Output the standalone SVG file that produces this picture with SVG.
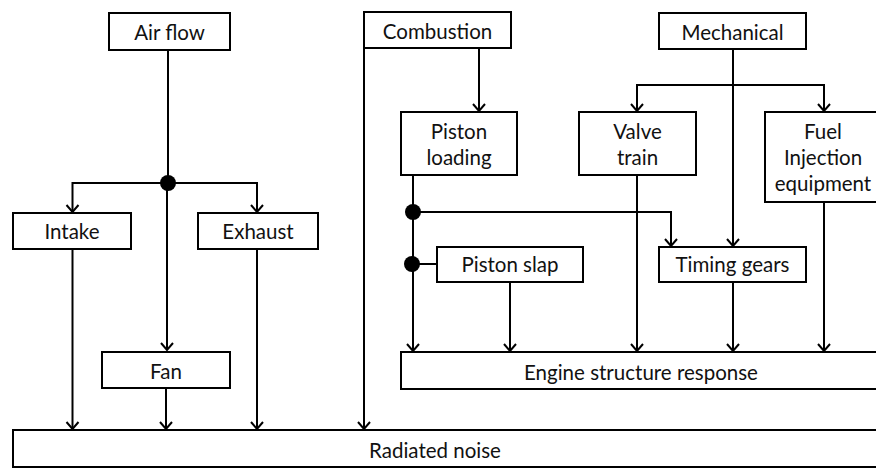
<svg xmlns="http://www.w3.org/2000/svg" width="876" height="468" viewBox="0 0 876 468">
  <style>
    .box { fill: #fff; stroke: #000; stroke-width: 2; }
    .lbl { font-family: Lato, "Open Sans", "Liberation Sans", sans-serif; font-size: 20.5px; fill: #111; text-anchor: middle; }
    .wire { fill: none; stroke: #000; stroke-width: 2; }
    .arr { marker-end: url(#head); }
    .dot { fill: #000; }
  </style>
  <defs>
    <marker id="head" markerUnits="userSpaceOnUse" markerWidth="16" markerHeight="16" viewBox="-9 -8 10 16" refX="0" refY="0" orient="auto">
      <path d="M-7,-6 L0,0 L-7,6" fill="none" stroke="#000" stroke-width="2"/>
    </marker>
  </defs>
  <rect width="876" height="468" fill="#fff"/>

  <!-- connectors -->
  <g id="connectors">
    <!-- air flow branch -->
    <path class="wire" d="M168,50 V183"/>
    <path class="wire arr" d="M168,183 H72.5 V212"/>
    <path class="wire arr" d="M168,183 H257 V212"/>
    <path class="wire arr" d="M167,183 V350"/>
    <path class="wire arr" d="M72.5,249 V429"/>
    <path class="wire arr" d="M166,388 V429"/>
    <path class="wire arr" d="M257,249 V429"/>
    <!-- combustion branch -->
    <path class="wire arr" d="M364,47 V429"/>
    <path class="wire arr" d="M479,48 V111"/>
    <path class="wire arr" d="M413,175 V351"/>
    <path class="wire arr" d="M413,212 H671 V246"/>
    <path class="wire" d="M412,264 H437"/>
    <path class="wire arr" d="M510,282 V351"/>
    <!-- mechanical branch -->
    <path class="wire arr" d="M733,49 V246"/>
    <path class="wire arr" d="M733,85 H637 V111"/>
    <path class="wire arr" d="M733,85 H824 V111"/>
    <path class="wire arr" d="M637,175 V351"/>
    <path class="wire arr" d="M733,282 V351"/>
    <path class="wire arr" d="M824,201 V351"/>
    <!-- junctions -->
    <circle class="dot" cx="168" cy="183" r="8"/>
    <circle class="dot" cx="413" cy="212" r="8"/>
    <circle class="dot" cx="412" cy="264" r="8"/>
  </g>

  <g id="air-flow">
    <rect class="box" x="109" y="13" width="121" height="37"/>
    <text class="lbl" x="169.5" y="40">Air flow</text>
  </g>
  <g id="intake">
    <rect class="box" x="13" y="213" width="118" height="36"/>
    <text class="lbl" x="72" y="239">Intake</text>
  </g>
  <g id="exhaust">
    <rect class="box" x="198" y="213" width="120" height="36"/>
    <text class="lbl" x="258" y="239">Exhaust</text>
  </g>
  <g id="fan">
    <rect class="box" x="102" y="352" width="128" height="36"/>
    <text class="lbl" x="166" y="379">Fan</text>
  </g>
  <g id="combustion">
    <rect class="box" x="364" y="12" width="147" height="36"/>
    <text class="lbl" x="437.5" y="39">Combustion</text>
  </g>
  <g id="piston-loading">
    <rect class="box" x="401" y="112" width="116" height="63"/>
    <text class="lbl" x="459" y="139">Piston</text>
    <text class="lbl" x="459" y="165">loading</text>
  </g>
  <g id="mechanical">
    <rect class="box" x="659" y="13" width="147" height="36"/>
    <text class="lbl" x="732.5" y="40">Mechanical</text>
  </g>
  <g id="valve-train">
    <rect class="box" x="579" y="112" width="117" height="63"/>
    <text class="lbl" x="637.5" y="139">Valve</text>
    <text class="lbl" x="637.5" y="165">train</text>
  </g>
  <g id="fuel-injection">
    <rect class="box" x="765" y="112" width="115" height="90"/>
    <text class="lbl" x="823" y="139">Fuel</text>
    <text class="lbl" x="823" y="165">Injection</text>
    <text class="lbl" x="823" y="191">equipment</text>
  </g>
  <g id="piston-slap">
    <rect class="box" x="437" y="247" width="146" height="35"/>
    <text class="lbl" x="510" y="272">Piston slap</text>
  </g>
  <g id="timing-gears">
    <rect class="box" x="659" y="247" width="147" height="35"/>
    <text class="lbl" x="732.5" y="272">Timing gears</text>
  </g>
  <g id="engine-structure">
    <rect class="box" x="401" y="352" width="480" height="37"/>
    <text class="lbl" x="641" y="380">Engine structure response</text>
  </g>
  <g id="radiated-noise">
    <rect class="box" x="13" y="430" width="870" height="37"/>
    <text class="lbl" x="435" y="458">Radiated noise</text>
  </g>
</svg>
